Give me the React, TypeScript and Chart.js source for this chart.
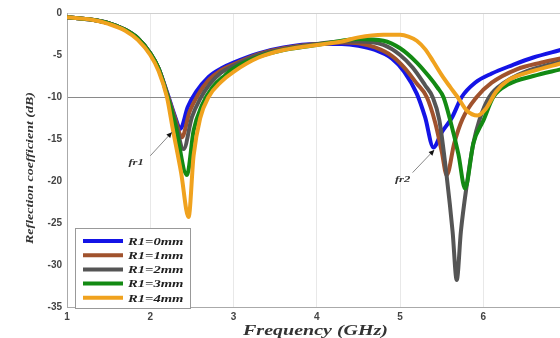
import React, { useEffect, useRef } from "react";
import { Chart, registerables } from "chart.js";

Chart.register(...registerables);

const seriesLabels = ["R1=0mm", "R1=1mm", "R1=2mm", "R1=3mm", "R1=4mm"];
const seriesColors = ["#1414e6", "#a0522d", "#555555", "#138a13", "#f0a21e"];

const freq0 = [1.0,1.3,1.5,1.7,1.85,2.0,2.1,2.2,2.3,2.36,2.45,2.55,2.7,2.85,3.0,3.3,3.6,4.0,4.3,4.5,4.7,4.9,5.05,5.2,5.3,5.4,5.5,5.62,5.74,5.9,6.1,6.35,6.6,6.93];
const s11_0 = [-0.5,-0.8,-1.2,-2.0,-3.0,-4.8,-6.6,-9.4,-12.4,-13.8,-11.2,-9.4,-7.6,-6.6,-5.9,-4.8,-4.1,-3.7,-3.7,-3.9,-4.4,-5.4,-7.0,-9.6,-12.4,-16.0,-14.2,-12.5,-10.0,-8.3,-7.2,-6.2,-5.3,-4.4];

const freq1 = [1.0,1.3,1.5,1.7,1.85,2.0,2.1,2.2,2.3,2.38,2.47,2.57,2.7,2.85,3.0,3.3,3.6,4.0,4.3,4.5,4.7,4.9,5.05,5.2,5.32,5.42,5.5,5.56,5.65,5.75,5.92,6.1,6.4,6.7,6.93];
const s11_1 = [-0.5,-0.8,-1.2,-2.0,-3.0,-4.8,-6.6,-9.5,-12.6,-14.8,-11.8,-9.8,-8.0,-6.8,-6.1,-4.9,-4.2,-3.7,-3.5,-3.6,-4.1,-5.1,-6.5,-8.4,-10.0,-13.0,-16.5,-19.3,-15.5,-12.6,-10.0,-8.3,-6.7,-5.9,-5.4];

const freq2 = [1.0,1.3,1.5,1.7,1.85,2.0,2.1,2.2,2.3,2.4,2.5,2.6,2.72,2.85,3.0,3.3,3.6,4.0,4.3,4.5,4.8,5.0,5.15,5.3,5.39,5.47,5.56,5.63,5.68,5.73,5.8,5.88,5.95,6.07,6.25,6.5,6.93];
const s11_2 = [-0.5,-0.8,-1.2,-2.0,-3.0,-4.8,-6.6,-9.6,-12.9,-16.2,-12.4,-10.2,-8.4,-7.1,-6.3,-5.0,-4.3,-3.7,-3.4,-3.4,-3.8,-5.0,-6.5,-8.6,-10.0,-12.7,-19.5,-26.0,-31.8,-26.0,-20.5,-15.5,-12.8,-10.0,-8.3,-7.0,-5.8];

const freq3 = [1.0,1.3,1.5,1.7,1.85,2.0,2.1,2.2,2.3,2.44,2.52,2.62,2.75,2.9,3.0,3.3,3.6,4.0,4.3,4.5,4.8,5.0,5.2,5.35,5.45,5.52,5.6,5.7,5.78,5.88,6.0,6.12,6.3,6.6,6.93];
const s11_3 = [-0.5,-0.8,-1.2,-2.0,-3.0,-4.8,-6.6,-9.7,-13.3,-19.3,-14.0,-11.0,-8.8,-7.4,-6.6,-5.2,-4.4,-3.8,-3.3,-3.1,-3.3,-4.2,-5.9,-7.6,-8.9,-10.0,-12.7,-16.8,-20.9,-15.5,-12.8,-10.0,-8.5,-7.5,-6.7];

const freq4 = [1.0,1.3,1.5,1.7,1.85,2.0,2.1,2.2,2.27,2.37,2.46,2.52,2.6,2.7,2.85,3.0,3.3,3.6,4.0,4.3,4.5,4.8,5.0,5.1,5.2,5.3,5.4,5.5,5.6,5.69,5.8,5.93,6.03,6.15,6.3,6.6,6.93];
const s11_4 = [-0.5,-0.8,-1.3,-2.1,-3.2,-5.0,-6.9,-10.0,-13.8,-19.0,-24.3,-17.0,-12.5,-10.0,-8.2,-7.0,-5.3,-4.4,-3.8,-3.4,-2.9,-2.6,-2.6,-2.8,-3.3,-4.3,-5.8,-7.4,-8.8,-10.0,-11.6,-12.2,-11.4,-9.4,-8.0,-6.9,-6.0];

const seriesFreqs = [freq0, freq1, freq2, freq3, freq4];
const seriesValues = [s11_0, s11_1, s11_2, s11_3, s11_4];

const xTicks = [1, 2, 3, 4, 5, 6];
const yTicks = [0, -5, -10, -15, -20, -25, -30, -35];
const xTitle = "Frequency (GHz)";
const yTitle = "Reflection coefficient (dB)";

// annotation texts and their anchor points (data units)
const annotLabels = ["fr1", "fr2"];
const annotTextPos = [[1.83, -17.8], [5.03, -19.9]];
const annotArrowFrom = [[2.0, -17.0], [5.15, -19.0]];
const annotArrowTo = [[2.26, -14.2], [5.41, -16.3]];

function stretchedText(ctx: any, text: string, x: number, y: number, sx: number, align: string) {
  ctx.save();
  ctx.translate(x, y);
  ctx.scale(sx, 1);
  ctx.textAlign = align;
  ctx.fillText(text, 0, 0);
  ctx.restore();
}

const overlayPlugin = {
  id: "overlay",
  afterDatasetsDraw(chart: any) {
    const { ctx, scales, chartArea } = chart;
    const xs = scales.x;
    const ys = scales.y;
    ctx.save();
    // annotations
    for (let i = 0; i < annotLabels.length; i++) {
      const fx = xs.getPixelForValue(annotArrowFrom[i][0]);
      const fy = ys.getPixelForValue(annotArrowFrom[i][1]);
      const tx = xs.getPixelForValue(annotArrowTo[i][0]);
      const ty = ys.getPixelForValue(annotArrowTo[i][1]);
      ctx.strokeStyle = "#888";
      ctx.lineWidth = 1;
      ctx.beginPath();
      ctx.moveTo(fx, fy);
      ctx.lineTo(tx, ty);
      ctx.stroke();
      const ang = Math.atan2(ty - fy, tx - fx);
      ctx.fillStyle = "#111";
      ctx.beginPath();
      ctx.moveTo(tx, ty);
      ctx.lineTo(tx - 6 * Math.cos(ang - 0.45), ty - 6 * Math.sin(ang - 0.45));
      ctx.lineTo(tx - 6 * Math.cos(ang + 0.45), ty - 6 * Math.sin(ang + 0.45));
      ctx.closePath();
      ctx.fill();
      ctx.fillStyle = "#333";
      ctx.font = "italic bold 9px 'Liberation Serif'";
      ctx.textBaseline = "middle";
      stretchedText(ctx, annotLabels[i], xs.getPixelForValue(annotTextPos[i][0]), ys.getPixelForValue(annotTextPos[i][1]), 1.4, "center");
    }
    // legend box
    const bx = chartArea.left + 8;
    const by = chartArea.bottom - 79;
    const bw = 115;
    const bh = 80;
    ctx.fillStyle = "#fff";
    ctx.fillRect(bx, by, bw, bh);
    ctx.strokeStyle = "#999";
    ctx.lineWidth = 1;
    ctx.strokeRect(bx + 0.5, by + 0.5, bw, bh);
    ctx.font = "italic bold 11px 'Liberation Serif'";
    ctx.textBaseline = "middle";
    for (let i = 0; i < seriesLabels.length; i++) {
      const ry = by + 13 + i * 14.2;
      ctx.strokeStyle = seriesColors[i];
      ctx.lineWidth = 4;
      ctx.beginPath();
      ctx.moveTo(bx + 8, ry);
      ctx.lineTo(bx + 48, ry);
      ctx.stroke();
      ctx.fillStyle = "#222";
      stretchedText(ctx, seriesLabels[i], bx + 53, ry + 1, 1.33, "left");
    }
    // axis titles
    ctx.fillStyle = "#333";
    ctx.textBaseline = "middle";
    ctx.font = "italic bold 14px 'Liberation Serif'";
    const xw = ctx.measureText(xTitle).width;
    stretchedText(ctx, xTitle, (chartArea.left + chartArea.right) / 2 + 2, 331, 145 / xw, "center");
    ctx.translate(30, 168);
    ctx.rotate(-Math.PI / 2);
    ctx.font = "italic bold 11px 'Liberation Serif'";
    const yw = ctx.measureText(yTitle).width;
    stretchedText(ctx, yTitle, 0, 0, 152 / yw, "center");
    ctx.restore();
  },
};

export default function App() {
  const ref = useRef<HTMLCanvasElement>(null);
  useEffect(() => {
    document.body.style.margin = "0";
    const canvas = ref.current!;
    const chart = new Chart(canvas, {
      type: "line",
      data: {
        datasets: seriesLabels.map((label, i) => ({
          label,
          data: seriesFreqs[i].map((f, j) => ({ x: f, y: seriesValues[i][j] })),
          borderColor: seriesColors[i],
          backgroundColor: seriesColors[i],
          borderWidth: 4,
          pointRadius: 0,
          cubicInterpolationMode: "monotone" as const,
          fill: false,
          order: seriesLabels.length - i,
        })),
      },
      options: {
        animation: false,
        responsive: false,
        layout: { padding: { top: 13, left: 0, right: 0, bottom: 0 } },
        plugins: { legend: { display: false }, tooltip: { enabled: false } },
        scales: {
          x: {
            type: "linear",
            min: 1,
            max: 6.92,
            afterBuildTicks: (s: any) => {
              s.ticks = xTicks.map((v) => ({ value: v }));
            },
            afterFit: (s: any) => {
              s.height = 31;
            },
            grid: { color: "#e8e8e8", drawTicks: false, lineWidth: 1 },
            border: { color: "#aaa" },
            ticks: {
              padding: 4,
              color: "#444",
              font: { family: "'Liberation Sans'", weight: "bold", size: 10 },
              callback: (v: any) => String(v),
            },
          },
          y: {
            type: "linear",
            min: -35,
            max: 0,
            afterBuildTicks: (s: any) => {
              s.ticks = yTicks.map((v) => ({ value: v }));
            },
            afterFit: (s: any) => {
              s.width = 67;
            },
            grid: {
              drawTicks: false,
              color: (c: any) => (c.tick && c.tick.value === -10 ? "#8a8a8a" : c.tick && c.tick.value === 0 ? "#cfcfcf" : "rgba(0,0,0,0)"),
              lineWidth: 1,
            },
            border: { color: "#aaa" },
            ticks: {
              padding: 5,
              color: "#444",
              font: { family: "'Liberation Sans'", weight: "bold", size: 10 },
              callback: (v: any) => String(v),
            },
          },
        },
      },
      plugins: [overlayPlugin],
    });
    return () => chart.destroy();
  }, []);
  return <canvas ref={ref} width={560} height={338} style={{ display: "block" }} />;
}
